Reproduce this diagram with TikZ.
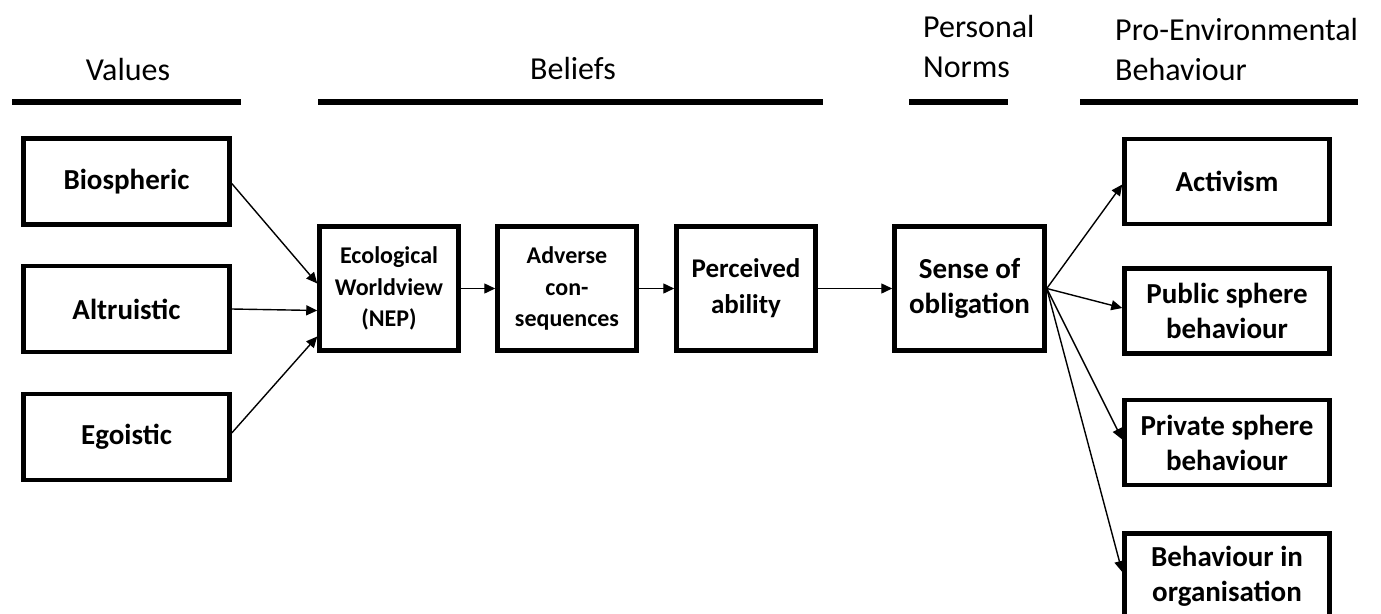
\documentclass[tikz,border=0pt]{standalone}
\usepackage{fontspec}
\setmainfont{Carlito}
\usetikzlibrary{arrows.meta,calc}
\begin{document}
\begin{tikzpicture}[x=1pt,y=-1pt,
  box/.style={draw=black,line width=4.5pt,fill=white,align=center,font=\bfseries\fontsize{29}{35}\selectfont,inner sep=2pt},
  valbox/.style={box,minimum width=206pt,minimum height=86pt},
  behbox/.style={box,minimum width=205pt,minimum height=85pt},
  chainbox/.style={box,minimum width=139pt,minimum height=124pt},
  head/.style={font=\fontsize{32}{40}\selectfont,inner sep=0pt},
  rule/.style={line width=5.5pt},
  link/.style={line width=1.4pt,-{Triangle[length=11pt,width=10pt]}}]
\useasboundingbox (0,0) rectangle (1381,613);
\clip (0,0) rectangle (1381,613);
\fill[white] (0,0) rectangle (1381,613);

% column headings
\node[head,anchor=base] (hval) at (128,80) {Values};
\node[head,anchor=base] (hbel) at (573,79) {Beliefs};
\node[head,anchor=base west] (hpn1) at (923,37) {Personal};
\node[head,anchor=base west] (hpn2) at (923,77) {Norms};
\node[head,anchor=base west] (hpe1) at (1115,40) {Pro-Environmental};
\node[head,anchor=base west] (hpe2) at (1115,80) {Behaviour};
\draw[rule] (12,102) -- (241,102);
\draw[rule] (318,102) -- (823,102);
\draw[rule] (909,102) -- (1008,102);
\draw[rule] (1080,102) -- (1358,102);

% values
\node[valbox] (bio) at (126.5,181.5) {Biospheric};
\node[valbox] (alt) at (126.5,309) {Altruistic};
\node[valbox] (ego) at (126.5,437) {Egoistic};

% beliefs chain
\node[chainbox,font=\bfseries\fontsize{24}{31.5}\selectfont] (eco) at (389,288.5) {Ecological\\Worldview\\(NEP)};
\node[chainbox,font=\bfseries\fontsize{24}{31.5}\selectfont] (adv) at (567,288.5) {Adverse\\con-\\sequences};
\node[chainbox,font=\bfseries\fontsize{27}{36}\selectfont] (per) at (746,288.5) {Perceived\\ability};
\node[chainbox,minimum width=150pt] (sen) at (969.5,288.5) {Sense of\\obligation};

% behaviours
\node[behbox] (act) at (1227,181.5) {Activism};
\node[behbox] (pub) at (1227,311) {Public sphere\\behaviour};
\node[behbox] (pri) at (1227,442.5) {Private sphere\\behaviour};
\node[behbox] (org) at (1227,576) {Behaviour in\\organisation};

% arrow end points on the worldview box
\coordinate (e1) at ($(eco.west)+(0,-5)$);
\coordinate (e2) at ($(eco.west)+(0,22)$);
\coordinate (e3) at ($(eco.west)+(0,48)$);

\draw[link] ($(bio.east)+(0,2)$) -- (e1);
\draw[link] (alt.east) -- (e2);
\draw[link] ($(ego.east)+(0,-4)$) -- (e3);
\draw[link] (eco.east) -- (adv.west);
\draw[link] (adv.east) -- (per.west);
\draw[link] (per.east) -- (sen.west);
\draw[link] (sen.east) -- ($(act.west)+(0,3)$);
\draw[link] (sen.east) -- ($(pub.west)+(0,-3)$);
\draw[link] (sen.east) -- ($(pri.west)+(0,-3)$);
\draw[link] (sen.east) -- ($(org.west)+(0,-4)$);
\end{tikzpicture}
\end{document}
